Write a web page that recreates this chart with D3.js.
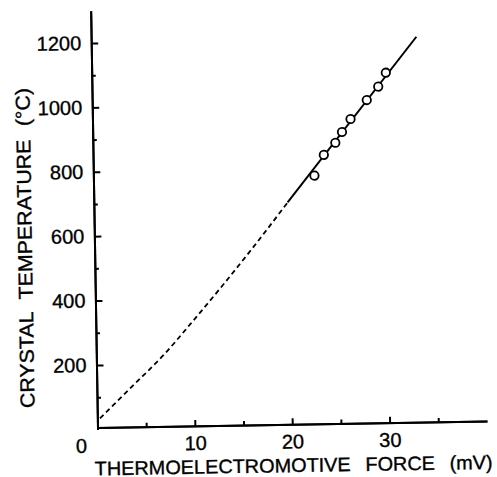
<!DOCTYPE html>
<html>
<head>
<meta charset="utf-8">
<script src="https://cdn.jsdelivr.net/npm/d3@7"></script>
<style>
    body { margin: 0; background: #fff; }
    svg { display: block; }
    text { font-family: "Liberation Sans", Arial, sans-serif; fill: #000; stroke: #000; stroke-width: 0.35px; }
</style>
</head>
<body>
<svg width="497" height="477"></svg>
<script>
// Measured points: [emf (mV), temperature (C)]
const measured = [
    [22.7, 777], [23.7, 841], [24.9, 878], [25.6, 911],
    [26.5, 951], [28.2, 1009], [29.4, 1050], [30.2, 1093]
];
// Fitted line through the measurements (solid part)
const fitLine = [[19.9, 695], [33.4, 1203]];
// Extrapolated calibration down to room temperature (dashed part)
const extrapolated = [
    [0.27, 34], [3.6, 131], [7.05, 232], [9.7, 322],
    [13.4, 452], [16.3, 558], [19.9, 695]
];

const xMajorTicks = [10, 20, 30];
const xMinorTicks = [5, 15, 25, 35];
const yMajorTicks = [200, 400, 600, 800, 1000, 1200];
const yMinorTicks = [100, 300, 500, 700, 900, 1100];

const xTitle = 'THERMOELECTROMOTIVE FORCE (mV)';
const yTitle = 'CRYSTAL TEMPERATURE (°C)';

class Plot {
    constructor() {
        this.svg = d3.select('svg');
        this.origin = { x: 97.5, y: 427.5 }; // corner of the axes
        this.tilt = -0.94; // the scanned figure is slightly rotated
        this.innerWidth = 389.5;
    }

    createPlot = () => {
        this.setContainer();
        this.setScales();
        this.setXAxis();
        this.setYAxis();
        this.setLabels();
        this.setLines();
        this.setPoints();
    }

    setContainer = () => {
        this.g = this.svg.append('g')
            .attr('transform', `translate(${this.origin.x},${this.origin.y}) rotate(${this.tilt})`);
    }

    setScales = () => {
        this.xScale = d3.scaleLinear().domain([0, 40]).range([0, this.innerWidth]);
        // zero sits a hair under the drawn x axis line
        this.yScale = d3.scaleLinear().domain([0, 1300]).range([1.9, -416.7]);
    }

    setXAxis = () => {
        // minor ticks first, then the labelled ones
        this.g.append('g')
            .call(d3.axisBottom(this.xScale).tickValues(xMinorTicks)
                .tickSizeInner(-4).tickSizeOuter(0).tickFormat(''));
        this.g.append('g')
            .attr('class', 'x-axis')
            .call(d3.axisBottom(this.xScale).tickValues(xMajorTicks)
                .tickSizeInner(-6).tickSizeOuter(0).tickPadding(10)
                .tickFormat(d3.format('d')));
        this.g.selectAll('.x-axis text').style('font-size', '20px');
    }

    setYAxis = () => {
        this.g.append('g')
            .call(d3.axisLeft(this.yScale).tickValues(yMinorTicks)
                .tickSizeInner(-4).tickSizeOuter(0).tickFormat(''));
        this.g.append('g')
            .attr('class', 'y-axis')
            .call(d3.axisLeft(this.yScale).tickValues(yMajorTicks)
                .tickSizeInner(-7).tickSizeOuter(0).tickPadding(10)
                .tickFormat(d3.format('d')));
        this.g.selectAll('.y-axis text').style('font-size', '20px');

        this.g.selectAll('.domain, .tick line')
            .attr('stroke', '#000')
            .attr('stroke-width', 2);
    }

    setLabels = () => {
        // shared zero at the corner
        this.g.append('text')
            .attr('x', -16.4)
            .attr('y', 25.2)
            .attr('text-anchor', 'middle')
            .style('font-size', '20px')
            .text('0');

        this.g.append('text')
            .attr('x', 195.5)
            .attr('y', 47.8)
            .attr('text-anchor', 'middle')
            .attr('textLength', 398)
            .attr('lengthAdjust', 'spacingAndGlyphs')
            .style('font-size', '19.5px')
            .style('word-spacing', '9px')
            .text(xTitle);

        this.g.append('text')
            .attr('transform', 'translate(-62.6,-180.6) rotate(-90)')
            .attr('text-anchor', 'middle')
            .attr('textLength', 320)
            .attr('lengthAdjust', 'spacingAndGlyphs')
            .style('font-size', '20px')
            .style('word-spacing', '7px')
            .text(yTitle);
    }

    setLines = () => {
        const line = d3.line()
            .x(d => this.xScale(d[0]))
            .y(d => this.yScale(d[1]));

        this.g.append('path')
            .datum(extrapolated)
            .attr('d', line.curve(d3.curveMonotoneX))
            .attr('fill', 'none')
            .attr('stroke', '#000')
            .attr('stroke-width', 1.8)
            .attr('stroke-dasharray', '5,3.5');

        this.g.append('path')
            .datum(fitLine)
            .attr('d', line.curve(d3.curveLinear))
            .attr('fill', 'none')
            .attr('stroke', '#000')
            .attr('stroke-width', 2);
    }

    setPoints = () => {
        this.g.selectAll('circle')
            .data(measured)
            .enter()
            .append('circle')
            .attr('cx', d => this.xScale(d[0]))
            .attr('cy', d => this.yScale(d[1]))
            .attr('r', 4.2)
            .attr('fill', '#fff')
            .attr('stroke', '#000')
            .attr('stroke-width', 1.8);
    }
}

new Plot().createPlot();
</script>
</body>
</html>
